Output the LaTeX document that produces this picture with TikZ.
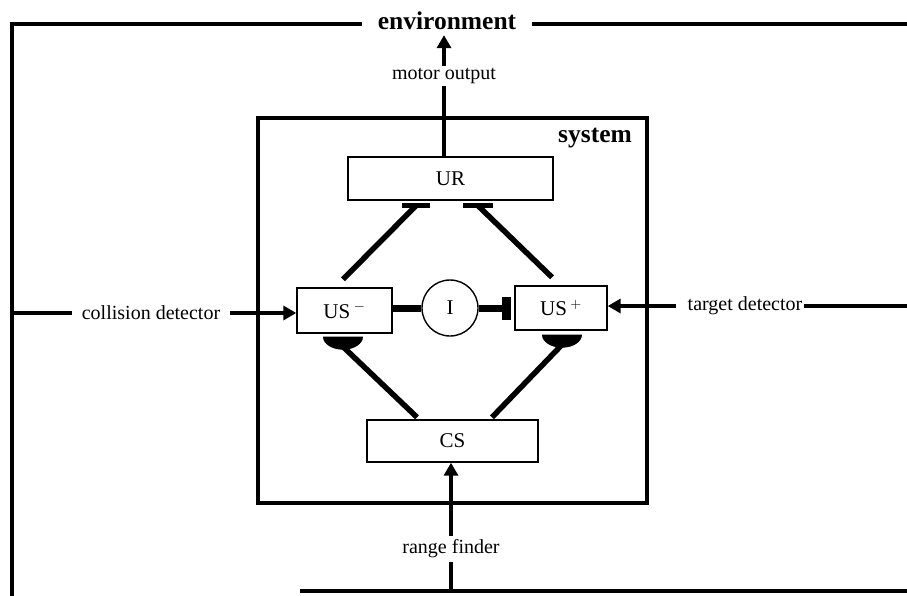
\documentclass[tikz,border=0pt]{standalone}
\usepackage{fontspec}
\setmainfont{Liberation Serif}
\usetikzlibrary{arrows.meta,calc}
\begin{document}
\begin{tikzpicture}[x=1pt,y=-1pt,
 frame/.style={line width=3.8pt},
 conn/.style={line width=5.5pt},
 arr/.style={line width=4pt,-{Triangle[length=13pt,width=14pt]}},
 box/.style={draw,line width=1.4pt,rectangle,inner sep=0pt,font=\fontsize{21}{24}\selectfont},
 lbl/.style={font=\fontsize{20}{23}\selectfont,inner sep=0pt},
 blbl/.style={font=\bfseries\fontsize{25.5}{30}\selectfont,inner sep=0pt}]
\useasboundingbox (0,0) rectangle (907,596);
% nodes
\node[blbl,inner xsep=16pt] (env) at (447,21) {environment};
\node[lbl,inner ysep=2pt] (motor) at (444,76) {motor output};
\node[draw,line width=3.5pt,minimum width=389pt,minimum height=385pt,inner sep=0pt] (sys) at (452.5,310.5) {};
\node[blbl] (syslbl) at (595,138) {system};
\node[box,minimum width=205pt,minimum height=43pt] (UR) at (450.5,178.5) {UR};
\node[box,minimum width=95pt,minimum height=45pt] (USm) at (344.5,310.5) {US\,$^{-}$};
\node[box,circle,minimum size=56pt] (I) at (450,308) {I};
\node[box,minimum width=92pt,minimum height=44pt] (USp) at (561,308) {US\,$^{+}$};
\node[box,minimum width=171pt,minimum height=42pt] (CS) at (452.5,441) {CS};
\node[lbl,inner xsep=10pt] (coll) at (151,313) {collision detector};
\node[lbl,inner xsep=2pt] (targ) at (745,306) {target detector};
\node[lbl,inner ysep=4pt] (range) at (451,549) {range finder};
\coordinate (targin) at ($(targ.west)+(-10,0)$);
% frame coordinates
\coordinate (tl) at (12,24);
\coordinate (bl) at (12,600);
\coordinate (tr) at (907,24);
\coordinate (br) at (907,591);
\coordinate (bs) at (300,591);
\coordinate (rt) at (907,306);
% environment frame
\draw[frame] (bl) -- (tl) -- (tl -| env.west);
\draw[frame] (env.east |- tr) -- (tr);
\draw[frame] (bs) -- (br);
\draw[frame] (bl |- coll) -- (coll.west);
\draw[frame] (targ.east) -- (rt);
\draw[frame] (range.south) -- (range.south |- br);
% arrows
\draw[arr,shorten >=5pt] (motor.north) -- (motor.north |- env.south);
\draw[line width=4pt] (UR.north -| motor) -- (motor.south);
\draw[arr] (coll.east) -- (coll.east -| USm.west);
\draw[arr] (targin) -- (targin -| USp.east);
\draw[arr] (range.north) -- (range.north |- CS.south);
% inhibitory to UR
\coordinate (b1) at ($(UR.south)+(-34.5,5)$);
\coordinate (b2) at ($(UR.south)+(27.5,5)$);
\draw[conn] ($(USm.north)+(-1.5,-8)$) -- (b1);
\draw[line width=5pt] ($(b1)+(-14,0)$) -- ($(b1)+(14,0)$);
\draw[conn] ($(USp.north)+(-9,-8)$) -- (b2);
\draw[line width=5pt] ($(b2)+(-15,0)$) -- ($(b2)+(15,0)$);
% excitatory from CS
\coordinate (c1) at ($(USm.south)+(-1.5,3)$);
\coordinate (c2) at ($(USp.south)+(1,4)$);
\fill (c1) ++(-20,0) arc[start angle=180,end angle=0,x radius=20,y radius=13] -- cycle;
\fill (c2) ++(-20,0) arc[start angle=180,end angle=0,x radius=20,y radius=13] -- cycle;
\draw[conn] ($(CS.north)+(-35.5,-2)$) -- ($(c1)+(0,10)$);
\draw[conn] ($(CS.north)+(39.5,-2)$) -- ($(c2)+(0,10)$);
% interneuron
\draw[line width=7pt] (I.west -| USm.east) -- (I.west);
\draw[line width=7pt] (I.east) -- ($(USp.west)+(-5,0)$);
\fill ($(USp.west)+(-12,-11.5)$) rectangle ($(USp.west)+(-3,11.5)$);
\end{tikzpicture}
\end{document}
